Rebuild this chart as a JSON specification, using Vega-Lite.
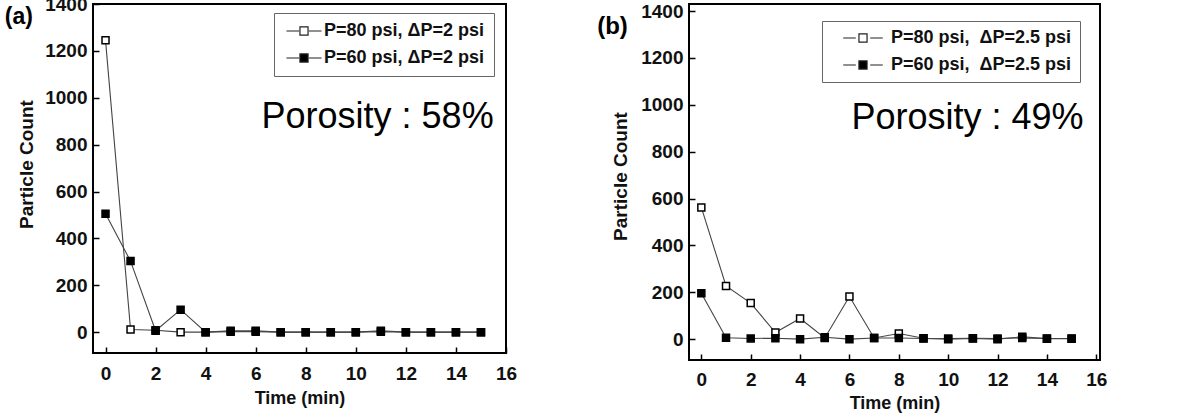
{
  "$schema": "https://vega.github.io/schema/vega-lite/v6.json",
  "background": "white",
  "padding": {"left": 3, "top": -6, "right": 5, "bottom": 0},
  "spacing": 183,
  "bounds": "flush",
  "config": {
    "view": {"stroke": "black", "strokeWidth": 2},
    "font": "Liberation Sans",
    "axis": {
      "labelFont": "Liberation Sans", "labelFontSize": 19, "labelFontWeight": "bold", "labelColor": "#111",
      "titleFont": "Liberation Sans", "titleFontWeight": "bold", "titleColor": "#111",
      "domain": false, "grid": false, "tickColor": "black", "tickWidth": 1.5,
      "labelOverlap": false, "labelFlush": false, "labelBound": false
    }
  },
  "datasets": {
    "a": [
      {"t": 0, "c": 1245, "series": "P=80 psi, ΔP=2 psi"},
      {"t": 1, "c": 11, "series": "P=80 psi, ΔP=2 psi"},
      {"t": 2, "c": 8, "series": "P=80 psi, ΔP=2 psi"},
      {"t": 3, "c": 0, "series": "P=80 psi, ΔP=2 psi"},
      {"t": 4, "c": 0, "series": "P=80 psi, ΔP=2 psi"},
      {"t": 5, "c": 2, "series": "P=80 psi, ΔP=2 psi"},
      {"t": 6, "c": 2, "series": "P=80 psi, ΔP=2 psi"},
      {"t": 7, "c": 0, "series": "P=80 psi, ΔP=2 psi"},
      {"t": 8, "c": 0, "series": "P=80 psi, ΔP=2 psi"},
      {"t": 9, "c": 0, "series": "P=80 psi, ΔP=2 psi"},
      {"t": 10, "c": 0, "series": "P=80 psi, ΔP=2 psi"},
      {"t": 11, "c": 2, "series": "P=80 psi, ΔP=2 psi"},
      {"t": 12, "c": 0, "series": "P=80 psi, ΔP=2 psi"},
      {"t": 13, "c": 0, "series": "P=80 psi, ΔP=2 psi"},
      {"t": 14, "c": 0, "series": "P=80 psi, ΔP=2 psi"},
      {"t": 15, "c": 0, "series": "P=80 psi, ΔP=2 psi"},
      {"t": 0, "c": 505, "series": "P=60 psi, ΔP=2 psi"},
      {"t": 1, "c": 303, "series": "P=60 psi, ΔP=2 psi"},
      {"t": 2, "c": 6, "series": "P=60 psi, ΔP=2 psi"},
      {"t": 3, "c": 96, "series": "P=60 psi, ΔP=2 psi"},
      {"t": 4, "c": 0, "series": "P=60 psi, ΔP=2 psi"},
      {"t": 5, "c": 6, "series": "P=60 psi, ΔP=2 psi"},
      {"t": 6, "c": 6, "series": "P=60 psi, ΔP=2 psi"},
      {"t": 7, "c": 0, "series": "P=60 psi, ΔP=2 psi"},
      {"t": 8, "c": 0, "series": "P=60 psi, ΔP=2 psi"},
      {"t": 9, "c": 0, "series": "P=60 psi, ΔP=2 psi"},
      {"t": 10, "c": 0, "series": "P=60 psi, ΔP=2 psi"},
      {"t": 11, "c": 6, "series": "P=60 psi, ΔP=2 psi"},
      {"t": 12, "c": 0, "series": "P=60 psi, ΔP=2 psi"},
      {"t": 13, "c": 0, "series": "P=60 psi, ΔP=2 psi"},
      {"t": 14, "c": 0, "series": "P=60 psi, ΔP=2 psi"},
      {"t": 15, "c": 0, "series": "P=60 psi, ΔP=2 psi"}
    ],
    "b": [
      {"t": 0, "c": 562, "series": "P=80 psi,\u00a0 ΔP=2.5 psi"},
      {"t": 1, "c": 227, "series": "P=80 psi,\u00a0 ΔP=2.5 psi"},
      {"t": 2, "c": 154, "series": "P=80 psi,\u00a0 ΔP=2.5 psi"},
      {"t": 3, "c": 28, "series": "P=80 psi,\u00a0 ΔP=2.5 psi"},
      {"t": 4, "c": 88, "series": "P=80 psi,\u00a0 ΔP=2.5 psi"},
      {"t": 5, "c": 5, "series": "P=80 psi,\u00a0 ΔP=2.5 psi"},
      {"t": 6, "c": 182, "series": "P=80 psi,\u00a0 ΔP=2.5 psi"},
      {"t": 7, "c": 5, "series": "P=80 psi,\u00a0 ΔP=2.5 psi"},
      {"t": 8, "c": 24, "series": "P=80 psi,\u00a0 ΔP=2.5 psi"},
      {"t": 9, "c": 4, "series": "P=80 psi,\u00a0 ΔP=2.5 psi"},
      {"t": 10, "c": 3, "series": "P=80 psi,\u00a0 ΔP=2.5 psi"},
      {"t": 11, "c": 4, "series": "P=80 psi,\u00a0 ΔP=2.5 psi"},
      {"t": 12, "c": 3, "series": "P=80 psi,\u00a0 ΔP=2.5 psi"},
      {"t": 13, "c": 5, "series": "P=80 psi,\u00a0 ΔP=2.5 psi"},
      {"t": 14, "c": 3, "series": "P=80 psi,\u00a0 ΔP=2.5 psi"},
      {"t": 15, "c": 3, "series": "P=80 psi,\u00a0 ΔP=2.5 psi"},
      {"t": 0, "c": 196, "series": "P=60 psi,\u00a0 ΔP=2.5 psi"},
      {"t": 1, "c": 6, "series": "P=60 psi,\u00a0 ΔP=2.5 psi"},
      {"t": 2, "c": 3, "series": "P=60 psi,\u00a0 ΔP=2.5 psi"},
      {"t": 3, "c": 4, "series": "P=60 psi,\u00a0 ΔP=2.5 psi"},
      {"t": 4, "c": 0, "series": "P=60 psi,\u00a0 ΔP=2.5 psi"},
      {"t": 5, "c": 8, "series": "P=60 psi,\u00a0 ΔP=2.5 psi"},
      {"t": 6, "c": 0, "series": "P=60 psi,\u00a0 ΔP=2.5 psi"},
      {"t": 7, "c": 5, "series": "P=60 psi,\u00a0 ΔP=2.5 psi"},
      {"t": 8, "c": 5, "series": "P=60 psi,\u00a0 ΔP=2.5 psi"},
      {"t": 9, "c": 3, "series": "P=60 psi,\u00a0 ΔP=2.5 psi"},
      {"t": 10, "c": 0, "series": "P=60 psi,\u00a0 ΔP=2.5 psi"},
      {"t": 11, "c": 3, "series": "P=60 psi,\u00a0 ΔP=2.5 psi"},
      {"t": 12, "c": 0, "series": "P=60 psi,\u00a0 ΔP=2.5 psi"},
      {"t": 13, "c": 10, "series": "P=60 psi,\u00a0 ΔP=2.5 psi"},
      {"t": 14, "c": 2, "series": "P=60 psi,\u00a0 ΔP=2.5 psi"},
      {"t": 15, "c": 2, "series": "P=60 psi,\u00a0 ΔP=2.5 psi"}
    ]
  },
  "resolve": {
    "scale": {"x": "independent", "y": "independent", "fill": "independent"},
    "legend": {"fill": "independent"}
  },
  "hconcat": [
    {
      "width": 413,
      "height": 349,
      "layer": [
        {
          "data": {"name": "a"},
          "mark": {"type": "line", "color": "#444", "strokeWidth": 1.1},
          "encoding": {
            "x": {
              "field": "t", "type": "quantitative",
              "scale": {"domain": [-0.5, 16], "nice": false, "zero": false},
              "axis": {
                "title": "Time (min)", "titleFontSize": 18, "titlePadding": 6,
                "values": [0,1,2,3,4,5,6,7,8,9,10,11,12,13,14,15,16],
                "labelExpr": "datum.value % 2 === 0 ? datum.label : ''",
                "tickSize": {"condition": {"test": "datum.value % 2 === 0", "value": -6}, "value": -3},
                "labelPadding": 17
              }
            },
            "y": {
              "field": "c", "type": "quantitative",
              "scale": {"domain": [-89, 1400], "nice": false, "zero": false},
              "axis": {
                "title": "Particle Count", "titleFontSize": 19, "titlePadding": 8, "titleY": 160, "format": "d",
                "values": [0,100,200,300,400,500,600,700,800,900,1000,1100,1200,1300,1400],
                "labelExpr": "datum.value % 200 === 0 ? datum.label : ''",
                "tickSize": {"condition": {"test": "datum.value % 200 === 0", "value": -6}, "value": -3},
                "labelPadding": 12
              }
            },
            "detail": {"field": "series"}
          }
        },
        {
          "data": {"name": "a"},
          "mark": {"type": "point", "shape": "square", "filled": true, "stroke": "black", "strokeWidth": 1.5, "size": 49, "opacity": 1},
          "encoding": {
            "x": {"field": "t", "type": "quantitative"},
            "y": {"field": "c", "type": "quantitative"},
            "fill": {
              "field": "series", "type": "nominal",
              "scale": {"domain": ["P=80 psi, ΔP=2 psi", "P=60 psi, ΔP=2 psi"], "range": ["white", "black"]},
              "legend": {
                "title": null, "orient": "none", "legendX": 181, "legendY": 9, "direction": "vertical",
                "strokeColor": "#666", "fillColor": "white", "padding": 9,
                "labelFont": "Liberation Sans", "labelFontSize": 18, "labelFontWeight": "bold", "labelColor": "#111",
                "labelOffset": 11, "labelLimit": 400,
                "symbolSize": 81, "symbolStrokeWidth": 1.2, "symbolStrokeColor": "#222", "symbolOffset": 12,
                "symbolType": "M-3.9,0H-1.1M1.1,0H3.9M-0.9,-0.9H0.9V0.9H-0.9Z",
                "rowPadding": 9,
                "encode": {"symbols": {"update": {"shape": {"value": "M-3.9,0H-1.1M1.1,0H3.9M-0.9,-0.9H0.9V0.9H-0.9Z"}}}}
              }
            }
          }
        },
        {
          "data": {"values": [{"label": "Porosity : 58%"}]},
          "mark": {"type": "text", "fontSize": 36, "font": "Liberation Sans", "align": "center", "baseline": "alphabetic", "color": "black"},
          "encoding": {
            "text": {"field": "label"},
            "x": {"datum": 10.87, "type": "quantitative"},
            "y": {"datum": 871, "type": "quantitative"}
          }
        },
        {
          "data": {"values": [{"label": "(a)"}]},
          "mark": {"type": "text", "fontSize": 23, "fontWeight": "bold", "font": "Liberation Sans", "align": "center", "baseline": "alphabetic", "color": "black"},
          "encoding": {
            "text": {"field": "label"},
            "x": {"datum": -3.46, "type": "quantitative"},
            "y": {"datum": 1315, "type": "quantitative"}
          }
        }
      ]
    },
    {
      "width": 411,
      "height": 356,
      "layer": [
        {
          "data": {"name": "b"},
          "mark": {"type": "line", "color": "#444", "strokeWidth": 1.1},
          "encoding": {
            "x": {
              "field": "t", "type": "quantitative",
              "scale": {"domain": [-0.5, 16.15], "nice": false, "zero": false},
              "axis": {
                "title": "Time (min)", "titleFontSize": 18, "titlePadding": 5,
                "values": [0,1,2,3,4,5,6,7,8,9,10,11,12,13,14,15,16],
                "labelExpr": "datum.value % 2 === 0 ? datum.label : ''",
                "tickSize": {"condition": {"test": "datum.value % 2 === 0", "value": -6}, "value": -3},
                "labelPadding": 16
              }
            },
            "y": {
              "field": "c", "type": "quantitative",
              "scale": {"domain": [-89, 1430], "nice": false, "zero": false},
              "axis": {
                "title": "Particle Count", "titleFontSize": 19, "titlePadding": 10, "titleY": 172, "format": "d",
                "values": [0,100,200,300,400,500,600,700,800,900,1000,1100,1200,1300,1400],
                "labelExpr": "datum.value % 200 === 0 ? datum.label : ''",
                "tickSize": {"condition": {"test": "datum.value % 200 === 0", "value": -6}, "value": -3},
                "labelPadding": 12
              }
            },
            "detail": {"field": "series"}
          }
        },
        {
          "data": {"name": "b"},
          "mark": {"type": "point", "shape": "square", "filled": true, "stroke": "black", "strokeWidth": 1.5, "size": 49, "opacity": 1},
          "encoding": {
            "x": {"field": "t", "type": "quantitative"},
            "y": {"field": "c", "type": "quantitative"},
            "fill": {
              "field": "series", "type": "nominal",
              "scale": {"domain": ["P=80 psi,\u00a0 ΔP=2.5 psi", "P=60 psi,\u00a0 ΔP=2.5 psi"], "range": ["white", "black"]},
              "legend": {
                "title": null, "orient": "none", "legendX": 133, "legendY": 17, "direction": "vertical",
                "strokeColor": "#666", "fillColor": "white", "padding": 8,
                "labelFont": "Liberation Sans", "labelFontSize": 18, "labelFontWeight": "bold", "labelColor": "#111",
                "labelOffset": 19, "labelLimit": 400,
                "symbolSize": 81, "symbolStrokeWidth": 1.2, "symbolStrokeColor": "#222", "symbolOffset": 24,
                "symbolType": "M-4.4,0H-1.6M1.6,0H4.4M-0.9,-0.9H0.9V0.9H-0.9Z",
                "rowPadding": 9,
                "encode": {"symbols": {"update": {"shape": {"value": "M-4.4,0H-1.6M1.6,0H4.4M-0.9,-0.9H0.9V0.9H-0.9Z"}}}}
              }
            }
          }
        },
        {
          "data": {"values": [{"label": "Porosity : 49%"}]},
          "mark": {"type": "text", "fontSize": 36, "font": "Liberation Sans", "align": "center", "baseline": "alphabetic", "color": "black"},
          "encoding": {
            "text": {"field": "label"},
            "x": {"datum": 10.78, "type": "quantitative"},
            "y": {"datum": 897, "type": "quantitative"}
          }
        },
        {
          "data": {"values": [{"label": "(b)"}]},
          "mark": {"type": "text", "fontSize": 24, "fontWeight": "bold", "font": "Liberation Sans", "align": "center", "baseline": "alphabetic", "color": "black"},
          "encoding": {
            "text": {"field": "label"},
            "x": {"datum": -3.6, "type": "quantitative"},
            "y": {"datum": 1302, "type": "quantitative"}
          }
        }
      ]
    }
  ]
}
